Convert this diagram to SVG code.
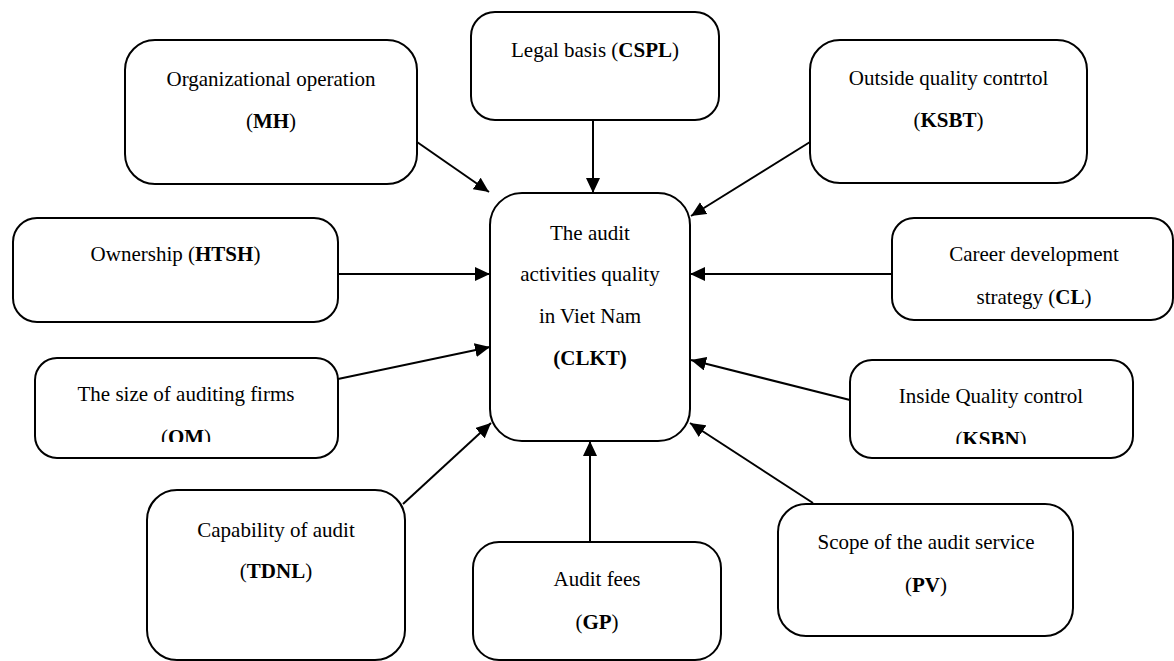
<svg xmlns="http://www.w3.org/2000/svg" width="1174" height="661" viewBox="0 0 1174 661">
<style>
.box{fill:#fff;stroke:#000;stroke-width:2}
.t{font-family:"Liberation Serif","Times New Roman",serif;font-size:21px;fill:#000;text-anchor:middle}
.b{font-weight:bold}
.c{stroke:#000;stroke-width:2;fill:none;marker-end:url(#ah)}
</style>
<defs>
<marker id="ah" markerUnits="userSpaceOnUse" markerWidth="16" markerHeight="14" refX="15" refY="7" orient="auto">
<path d="M0,0 L15,7 L0,14 z" fill="#000"/>
</marker>
<clipPath id="clipOM"><rect x="35" y="358" width="303" height="84"/></clipPath>
<clipPath id="clipKSBN"><rect x="850" y="360" width="283" height="84"/></clipPath>
</defs>
<rect width="1174" height="661" fill="#fff"/>
<g id="connectors">
<line class="c" x1="417" y1="142" x2="489" y2="192"/>
<line class="c" x1="593" y1="120" x2="593" y2="193"/>
<line class="c" x1="810" y1="142" x2="691" y2="216"/>
<line class="c" x1="338" y1="274" x2="490" y2="274"/>
<line class="c" x1="892" y1="274" x2="690" y2="274"/>
<line class="c" x1="338" y1="379" x2="490" y2="347"/>
<line class="c" x1="850" y1="400" x2="691" y2="360"/>
<line class="c" x1="403" y1="504" x2="491" y2="423"/>
<line class="c" x1="590" y1="542" x2="590" y2="441"/>
<line class="c" x1="813" y1="503" x2="690" y2="423"/>
</g>
<g id="node-CLKT">
<rect class="box" x="490" y="193" width="200" height="248" rx="32"/>
<text class="t" x="590" y="240">The audit</text>
<text class="t" x="590" y="281">activities quality</text>
<text class="t" x="590" y="323">in Viet Nam</text>
<text class="t b" x="590" y="365">(CLKT)</text>
</g>
<g id="node-MH">
<rect class="box" x="125" y="40" width="292" height="144" rx="30"/>
<text class="t" x="271" y="86">Organizational operation</text>
<text class="t" x="271" y="128">(<tspan class="b">MH</tspan>)</text>
</g>
<g id="node-CSPL">
<rect class="box" x="471" y="12" width="248" height="108" rx="24"/>
<text class="t" x="595" y="57">Legal basis (<tspan class="b">CSPL</tspan>)</text>
</g>
<g id="node-KSBT">
<rect class="box" x="810" y="40" width="277" height="143" rx="30"/>
<text class="t" x="948.5" y="85">Outside quality contrtol</text>
<text class="t" x="948.5" y="127">(<tspan class="b">KSBT</tspan>)</text>
</g>
<g id="node-HTSH">
<rect class="box" x="13" y="218" width="325" height="104" rx="24"/>
<text class="t" x="175.5" y="261">Ownership (<tspan class="b">HTSH</tspan>)</text>
</g>
<g id="node-CL">
<rect class="box" x="892" y="218" width="281" height="102" rx="22"/>
<text class="t" x="1034" y="261">Career development</text>
<text class="t" x="1034" y="304">strategy (<tspan class="b">CL</tspan>)</text>
</g>
<g id="node-OM">
<rect class="box" x="35" y="358" width="303" height="100" rx="22"/>
<text class="t" x="186" y="401">The size of auditing firms</text>
<text class="t" x="186" y="444" clip-path="url(#clipOM)">(<tspan class="b">OM</tspan>)</text>
</g>
<g id="node-KSBN">
<rect class="box" x="850" y="360" width="283" height="98" rx="22"/>
<text class="t" x="991" y="403">Inside Quality control</text>
<text class="t" x="991" y="446" clip-path="url(#clipKSBN)">(<tspan class="b">KSBN</tspan>)</text>
</g>
<g id="node-TDNL">
<rect class="box" x="147" y="490" width="258" height="170" rx="30"/>
<text class="t" x="276" y="537">Capability of audit</text>
<text class="t" x="276" y="578">(<tspan class="b">TDNL</tspan>)</text>
</g>
<g id="node-GP">
<rect class="box" x="473" y="542" width="248" height="118" rx="26"/>
<text class="t" x="597" y="586">Audit fees</text>
<text class="t" x="597" y="629">(<tspan class="b">GP</tspan>)</text>
</g>
<g id="node-PV">
<rect class="box" x="778" y="504" width="295" height="132" rx="28"/>
<text class="t" x="926" y="549">Scope of the audit service</text>
<text class="t" x="926" y="592">(<tspan class="b">PV</tspan>)</text>
</g>
</svg>
